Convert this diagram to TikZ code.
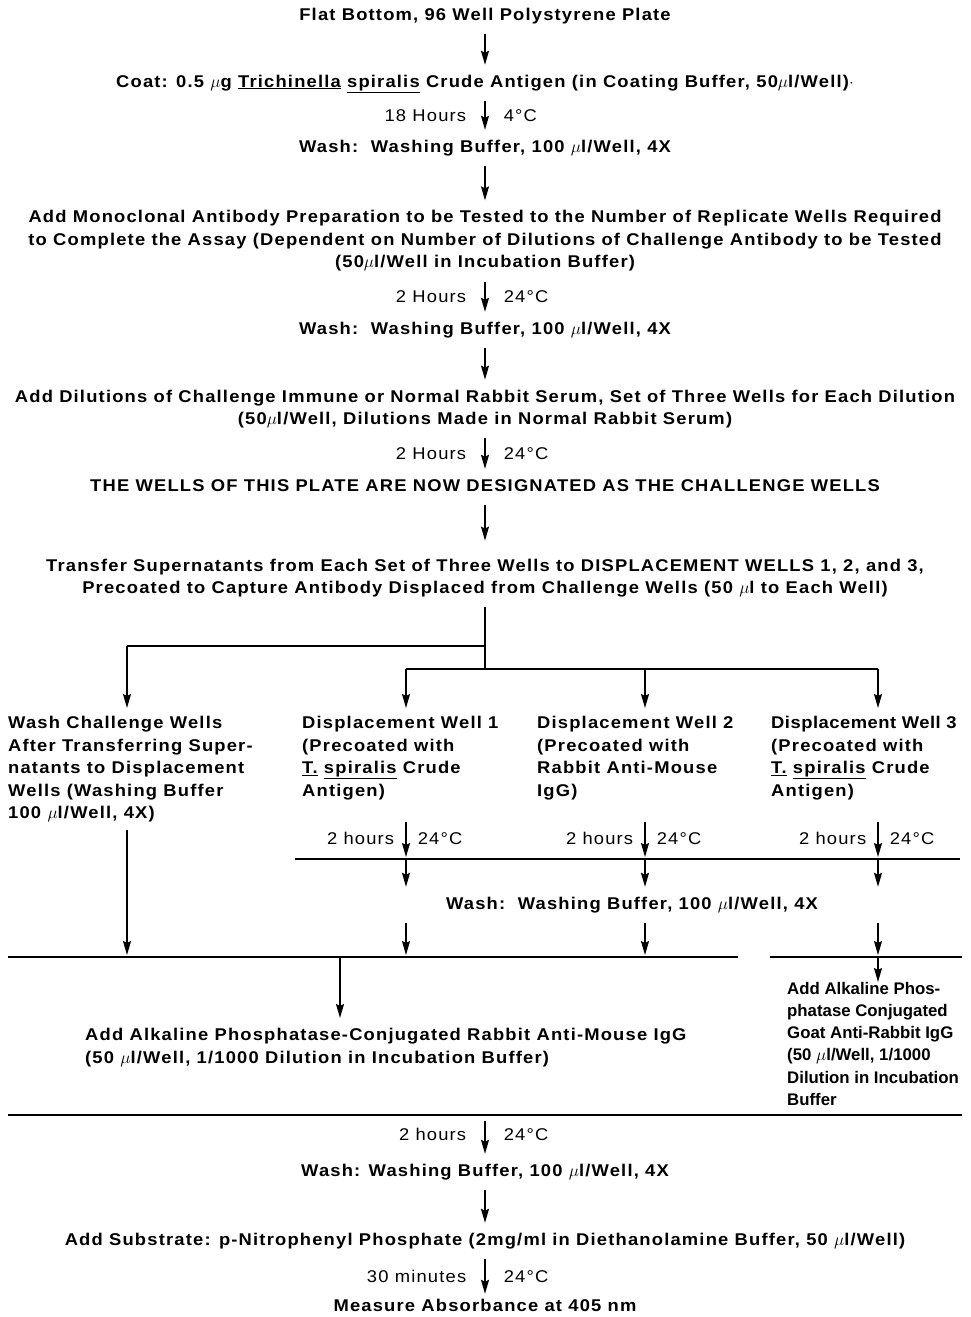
\documentclass[tikz,border=0pt]{standalone}
\usepackage{fontspec}
\setmainfont{Liberation Sans}[LetterSpace=7,FakeStretch=1.08]
\newfontfamily\lblfont{Liberation Sans}[LetterSpace=7,FakeStretch=1.08]
\newfontfamily\tightfont{Liberation Sans}
\usetikzlibrary{arrows.meta,positioning}
\tikzset{font=\fontsize{17}{22.5}\selectfont\bfseries}
\tikzstyle{txt}=[inner xsep=0pt,inner ysep=10pt,text height=12pt,text depth=4pt]
\tikzstyle{mtxt}=[inner xsep=0pt,inner ysep=10pt,align=center]
\tikzstyle{colt}=[inner xsep=0pt,inner ysep=8pt,align=left,anchor=north west]
\tikzstyle{lbl}=[font=\fontsize{17}{20}\lblfont\mdseries,inner xsep=18pt]
\tikzstyle{arr}=[-{Stealth[length=14pt,width=8pt,inset=2pt]},line width=1.6pt]
\tikzstyle{rule}=[line width=1.6pt]

\begin{document}
\begin{tikzpicture}[x=1pt,y=-1pt]
\useasboundingbox (0,0) rectangle (970,1317);
% main column
\node[txt] (plate) at (485,16) {Flat Bottom, 96 Well Polystyrene Plate};
\node[txt] (coat) at (485,83) {Coat: 0.5 $\mu$g \underline{Trichinella} \underline{spiralis} Crude Antigen (in Coating Buffer, 50$\mu$l/Well)$\cdot$};
\node[txt] (wash1) at (485,148) {Wash:\ \ Washing Buffer, 100 $\mu$l/Well, 4X};
\node[mtxt] (mono) at (485,241) {Add Monoclonal Antibody Preparation to be Tested to the Number of Replicate Wells Required\\to Complete the Assay (Dependent on Number of Dilutions of Challenge Antibody to be Tested\\(50$\mu$l/Well in Incubation Buffer)};
\node[txt] (wash2) at (485,330) {Wash:\ \ Washing Buffer, 100 $\mu$l/Well, 4X};
\node[mtxt] (dil) at (485,409) {Add Dilutions of Challenge Immune or Normal Rabbit Serum, Set of Three Wells for Each Dilution\\(50$\mu$l/Well, Dilutions Made in Normal Rabbit Serum)};
\node[txt] (chall) at (485,487) {THE WELLS OF THIS PLATE ARE NOW DESIGNATED AS THE CHALLENGE WELLS};
\node[mtxt] (transfer) at (485,578) {Transfer Supernatants from Each Set of Three Wells to DISPLACEMENT WELLS 1, 2, and 3,\\Precoated to Capture Antibody Displaced from Challenge Wells (50 $\mu$l to Each Well)};
\path[arr]
(plate) edge (coat)
(coat) edge node[lbl,left]{18 Hours} node[lbl,right]{4°C} (wash1)
(wash1) edge (mono)
(mono) edge node[lbl,left]{2 Hours} node[lbl,right]{24°C} (wash2)
(wash2) edge (dil)
(dil) edge node[lbl,left]{2 Hours} node[lbl,right]{24°C} (chall)
(chall) edge[shorten >=8pt] (transfer);
% branching
\coordinate (br) at (485,646);
\coordinate (b0) at (127,646);
\coordinate (bm) at (485,669);
\foreach \n/\x in {1/406,2/645,3/878}{
  \coordinate (b\n) at (\x,669);
  \coordinate (u\n) at (\x,859);
  \coordinate (v\n) at (\x,957);
}
\node[colt] (washcw) at (8,708) {Wash Challenge Wells\\After Transferring Super-\\natants to Displacement\\Wells (Washing Buffer\\100 $\mu$l/Well, 4X)};
\node[colt] (dw1) at (302,708) {Displacement Well 1\\(Precoated with\\\underline{T.} \underline{spiralis} Crude\\Antigen)};
\node[colt] (dw2) at (537,708) {Displacement Well 2\\(Precoated with\\Rabbit Anti-Mouse\\IgG)};
\node[colt] (dw3) at (771,708) {\addfontfeature{LetterSpace=3}Displacement Well 3\\(Precoated with\\\underline{T.} \underline{spiralis} Crude\\Antigen)};
\draw[rule] (transfer) -- (bm);
\draw[rule] (b0) -- (br);
\draw[rule] (b1) -- (b3);
\path[arr]
(b0) edge (b0 |- washcw.north)
(b1) edge (b1 |- dw1.north)
(b2) edge (b2 |- dw2.north)
(b3) edge (b3 |- dw3.north);
% incubation and wash of the displacement wells
\node[txt] (wash3) at (632,905) {Wash:\ \ Washing Buffer, 100 $\mu$l/Well, 4X};
\draw[rule] (295,859) -- (960,859);
\foreach \n in {1,2,3}{
  \path[arr] (b\n |- dw\n.south) edge[shorten <=14pt,shorten >=2pt] node[lbl,left,pos=0.6,inner xsep=11pt]{2 hours} node[lbl,right,pos=0.6,inner xsep=11pt]{24°C} (u\n)
  (u\n) edge (u\n |- wash3.north)
  (u\n |- wash3.south) edge[shorten >=2pt] (v\n);
}
\coordinate (v0) at (127,957);
\path[arr] (b0 |- washcw.south) edge[shorten >=2pt] (v0);
\draw[rule] (8,957) -- (738,957);
\draw[rule] (770,957) -- (962,957);
% conjugates
\coordinate (m2) at (340,957);
\node[colt,inner ysep=10pt] (apc) at (85,1018) {Add Alkaline Phosphatase-Conjugated Rabbit Anti-Mouse IgG\\(50 $\mu$l/Well, 1/1000 Dilution in Incubation Buffer)};
\node[colt,inner ysep=0pt,font=\fontsize{16.8}{22.2}\tightfont\bfseries] (gar) at (787,982) {Add Alkaline Phos-\\phatase Conjugated\\Goat Anti-Rabbit IgG\\(50 $\mu$l/Well, 1/1000\\Dilution in Incubation\\Buffer};
\path[arr]
(m2) edge (m2 |- apc.north)
(v3) edge (v3 |- gar.north);
\draw[rule] (8,1115) -- (962,1115);
% substrate
\coordinate (c0) at (485,1115);
\node[txt] (wash4) at (485,1172) {Wash: Washing Buffer, 100 $\mu$l/Well, 4X};
\node[txt] (subst) at (485,1241) {Add Substrate: p-Nitrophenyl Phosphate (2mg/ml in Diethanolamine Buffer, 50 $\mu$l/Well)};
\node[txt,inner ysep=5pt] (measure) at (485,1307) {Measure Absorbance at 405 nm};
\path[arr]
(c0) edge[shorten <=6pt] node[lbl,left]{2 hours} node[lbl,right]{24°C} (wash4)
(wash4) edge (subst)
(subst) edge node[lbl,left]{30 minutes} node[lbl,right]{24°C} (measure);
\end{tikzpicture}
\end{document}
